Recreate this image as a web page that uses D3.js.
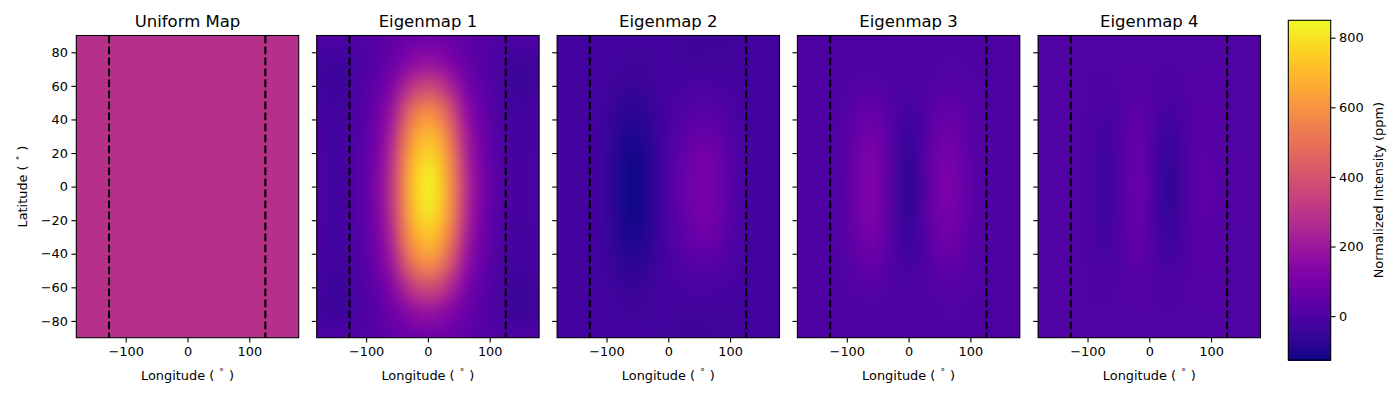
<!DOCTYPE html>
<html>
<head>
<meta charset="utf-8">
<script src="https://cdn.jsdelivr.net/npm/d3@7"></script>
<style>
  html, body { margin: 0; padding: 0; background: #fff; }
  svg text { font-family: "DejaVu Sans", sans-serif; fill: #000; }
</style>
</head>
<body>
<svg id="chart" width="1400" height="400"></svg>
<script>
const titles = ["Uniform Map", "Eigenmap 1", "Eigenmap 2", "Eigenmap 3", "Eigenmap 4"];
const lonNodes = [-180, -160, -140, -120, -100, -80, -60, -40, -20, 0, 20, 40, 60, 80, 100, 120, 140, 160, 180];
const latNodes = [90, 75, 60, 45, 30, 15, 0, -15, -30, -45, -60, -75, -90];
const lonTicks = [-100, 0, 100];
const latTicks = [80, 60, 40, 20, 0, -20, -40, -60, -80];
const cbarTicks = [0, 200, 400, 600, 800];
const cbarDomain = [-126, 850];
const dayNightLon = [-127, 126];

const uniformMap = [285];

const eigenmap1 = [
  [15, 10, 5, 10, 15, 25, 40, 55, 65, 70, 65, 55, 40, 25, 15, 10, 5, 10, 15],
  [-20, -35, -40, -15, 0, 25, 60, 105, 145, 165, 145, 105, 60, 25, 0, -15, -40, -35, -20],
  [-20, -40, -40, -10, 10, 50, 115, 220, 320, 360, 320, 220, 115, 50, 10, -10, -45, -40, -15],
  [-5, -30, -30, -5, 25, 85, 180, 370, 530, 590, 530, 370, 180, 85, 25, -5, -30, -25, 0],
  [0, -25, -25, 0, 35, 110, 235, 480, 650, 715, 650, 485, 240, 115, 35, 5, -20, -25, 0],
  [5, -25, -25, 0, 40, 125, 275, 530, 720, 805, 725, 540, 285, 130, 45, 10, -15, -20, 0],
  [5, -25, -25, 0, 45, 145, 300, 550, 755, 850, 765, 565, 310, 150, 55, 15, -15, -20, 0],
  [5, -25, -25, 0, 40, 130, 285, 540, 735, 825, 740, 555, 295, 135, 45, 10, -15, -20, 0],
  [0, -25, -25, 0, 35, 115, 245, 495, 665, 730, 670, 500, 250, 115, 35, 5, -20, -25, 0],
  [-5, -30, -30, -5, 25, 90, 190, 385, 545, 605, 545, 385, 190, 90, 25, -5, -30, -25, 0],
  [-15, -40, -45, -10, 10, 55, 125, 235, 340, 380, 340, 235, 125, 55, 10, -10, -45, -40, -15],
  [-25, -45, -45, -15, 0, 30, 70, 115, 160, 180, 160, 115, 70, 30, 0, -15, -45, -40, -20],
  [5, 5, 5, 10, 15, 25, 40, 55, 65, 70, 65, 55, 40, 25, 15, 10, 5, 5, 10],
];

const eigenmap2 = [
  [-22, -22, -24, -24, -24, -24, -25, -25, -25, -25, -30, -34, -36, -34, -30, -28, -26, -24, -22],
  [-20, -22, -24, -24, -25, -28, -30, -30, -28, -26, -30, -32, -30, -30, -28, -26, -24, -22, -20],
  [-20, -20, -22, -24, -28, -38, -45, -40, -30, -20, -15, -10, -8, -12, -18, -22, -24, -22, -20],
  [-20, -20, -22, -25, -38, -62, -78, -68, -40, -15, 2, 18, 24, 18, -5, -18, -24, -22, -20],
  [-18, -20, -20, -25, -45, -82, -106, -90, -50, -10, 24, 60, 72, 55, 10, -12, -22, -22, -20],
  [-16, -18, -20, -25, -45, -92, -124, -100, -50, -5, 45, 85, 100, 78, 25, -8, -22, -22, -20],
  [-15, -18, -20, -25, -45, -95, -126, -104, -50, 0, 50, 92, 108, 82, 28, -8, -22, -22, -20],
  [-16, -18, -20, -25, -45, -92, -126, -102, -50, -4, 48, 90, 106, 80, 26, -8, -22, -22, -20],
  [-18, -20, -20, -25, -45, -84, -110, -92, -50, -8, 28, 65, 78, 58, 12, -12, -22, -22, -20],
  [-20, -20, -22, -25, -38, -64, -82, -70, -40, -14, 6, 22, 28, 20, -4, -18, -24, -22, -20],
  [-20, -20, -22, -24, -28, -38, -46, -42, -30, -20, -14, -10, -8, -12, -18, -22, -24, -22, -20],
  [-20, -22, -24, -24, -25, -28, -30, -30, -28, -26, -28, -30, -30, -28, -28, -26, -24, -22, -20],
  [-24, -24, -24, -24, -24, -24, -25, -26, -28, -30, -32, -32, -32, -30, -28, -26, -26, -24, -24],
];

const eigenmap3 = [
  [-2, -2, -2, -3, -4, -4, -4, -2, 0, 2, 2, 2, 2, 2, 2, 0, 0, 0, 0],
  [-2, -2, -2, -2, -3, -3, 0, 0, 0, 0, 0, 2, 4, 4, 2, 2, 0, 0, 0],
  [0, 0, 0, 0, 5, 12, 15, 10, 0, -5, 0, 10, 16, 14, 8, 4, 2, 0, 0],
  [0, 0, 0, 2, 14, 42, 56, 34, -2, -22, -2, 32, 50, 42, 16, 5, 2, 2, 0],
  [0, 0, 0, 4, 24, 74, 98, 58, -8, -48, -8, 56, 88, 70, 24, 8, 4, 2, 0],
  [0, 0, 0, 5, 30, 90, 122, 70, -10, -66, -10, 68, 108, 84, 30, 8, 4, 2, 0],
  [0, 0, 0, 5, 32, 94, 128, 72, -12, -70, -12, 70, 112, 88, 32, 8, 4, 2, 0],
  [0, 0, 0, 5, 30, 92, 124, 70, -10, -68, -10, 68, 110, 84, 30, 8, 4, 2, 0],
  [0, 0, 0, 4, 24, 76, 100, 58, -8, -50, -8, 56, 90, 70, 24, 8, 4, 2, 0],
  [0, 0, 0, 2, 14, 44, 58, 34, -2, -24, -2, 32, 52, 42, 16, 5, 2, 2, 0],
  [0, 0, 0, 0, 5, 12, 16, 10, 0, -6, 0, 10, 16, 14, 8, 4, 2, 0, 0],
  [-2, -2, -2, -2, -3, -3, 0, 0, 0, -2, 0, 2, 4, 4, 2, 2, 0, 0, 0],
  [-2, -2, -2, -3, -3, -3, -2, -2, -2, 0, 0, 2, 2, 2, 2, 0, 0, 0, 0],
];

const eigenmap4 = [
  [6, 6, 6, 6, 6, 6, 6, 8, 8, 8, 8, 8, 8, 8, 8, 8, 8, 8, 8],
  [7, 7, 7, 7, 7, 6, 6, 8, 10, 8, 7, 6, 8, 9, 9, 8, 8, 8, 8],
  [8, 8, 8, 8, 6, 2, 4, 10, 16, 10, 2, 0, 6, 12, 12, 10, 8, 8, 8],
  [8, 8, 8, 8, 4, -10, -8, 16, 40, 20, -14, -22, 4, 20, 20, 12, 8, 8, 8],
  [8, 8, 8, 8, 2, -22, -18, 24, 60, 28, -34, -42, 2, 30, 28, 14, 8, 8, 8],
  [8, 8, 8, 8, 0, -34, -28, 26, 70, 30, -46, -54, 0, 34, 34, 16, 8, 8, 8],
  [8, 8, 8, 8, 0, -36, -30, 28, 72, 32, -48, -56, 0, 36, 34, 16, 8, 8, 8],
  [8, 8, 8, 8, 0, -34, -28, 26, 70, 30, -46, -54, 0, 34, 34, 16, 8, 8, 8],
  [8, 8, 8, 8, 2, -22, -18, 24, 60, 28, -34, -42, 2, 30, 28, 14, 8, 8, 8],
  [8, 8, 8, 8, 4, -10, -8, 16, 40, 20, -14, -22, 4, 20, 20, 12, 8, 8, 8],
  [8, 8, 8, 8, 6, 2, 4, 10, 16, 10, 2, 0, 6, 12, 12, 10, 8, 8, 8],
  [7, 7, 7, 7, 7, 6, 6, 8, 10, 8, 7, 6, 8, 9, 9, 8, 8, 8, 8],
  [6, 6, 6, 6, 6, 6, 6, 8, 8, 8, 8, 8, 8, 8, 8, 8, 8, 8, 8],
];

const maps = [null, eigenmap1, eigenmap2, eigenmap3, eigenmap4];

const panelLeft = [76.3, 316.7, 557.1, 797.4, 1038.1];
const panelWidth = 222.4;
const margin = { top: 35.5, bottom: 62.3 };
const height = 400,
  innerHeight = height - margin.top - margin.bottom;

const svg = d3.select("#chart");
const color = d3.scaleSequential(d3.interpolatePlasma).domain(cbarDomain);

const xScale = d3.scaleLinear().domain([-180, 180]).range([0, panelWidth]);
const yScale = d3.scaleLinear().domain([90, -90]).range([0, innerHeight]);

const defs = svg.append("defs");
defs
  .append("filter")
  .attr("id", "smooth")
  .attr("filterUnits", "userSpaceOnUse")
  .attr("x", -60)
  .attr("y", -60)
  .attr("width", panelWidth + 120)
  .attr("height", innerHeight + 120)
  .attr("color-interpolation-filters", "sRGB")
  .append("feGaussianBlur")
  .attr("stdDeviation", "6 10");
defs
  .append("clipPath")
  .attr("id", "panelClip")
  .append("rect")
  .attr("width", panelWidth)
  .attr("height", innerHeight);

const addDegreeLabel = (sel, name) => {
  sel.append("tspan").text(`${name} ( `);
  sel.append("tspan").attr("font-size", 9).attr("dx", 1).attr("dy", -4.5).text("\u00b0");
  sel.append("tspan").attr("dx", 1).attr("dy", 4.5).text(" )");
};

titles.forEach((title, i) => {
  const g = svg
    .append("g")
    .attr("transform", `translate(${panelLeft[i]},${margin.top})`);

  const img = g.append("g").attr("clip-path", "url(#panelClip)");

  if (i === 0) {
    img
      .selectAll("rect")
      .data(uniformMap)
      .join("rect")
      .attr("width", panelWidth)
      .attr("height", innerHeight)
      .attr("fill", (d) => color(d));
  } else {
    // grid values sit on the nodes, the edge cells run past the clip so the blur stays full
    const cells = maps[i].flatMap((row, r) =>
      row.map((value, c) => ({ value, r, c }))
    );
    img
      .append("g")
      .attr("filter", "url(#smooth)")
      .selectAll("rect")
      .data(cells)
      .join("rect")
      .attr("shape-rendering", "crispEdges")
      .attr("x", (d) => xScale(lonNodes[d.c] - (d.c === 0 ? 60 : 10)))
      .attr("width", (d) =>
        xScale(lonNodes[d.c] + (d.c === lonNodes.length - 1 ? 60 : 10)) -
        xScale(lonNodes[d.c] - (d.c === 0 ? 60 : 10))
      )
      .attr("y", (d) => yScale(latNodes[d.r] + (d.r === 0 ? 30 : 7.5)))
      .attr("height", (d) =>
        yScale(latNodes[d.r] - (d.r === latNodes.length - 1 ? 30 : 7.5)) -
        yScale(latNodes[d.r] + (d.r === 0 ? 30 : 7.5))
      )
      .attr("fill", (d) => color(d.value));
  }

  g.selectAll(".dayNight")
    .data(dayNightLon)
    .join("line")
    .attr("class", "dayNight")
    .attr("x1", (d) => xScale(d))
    .attr("x2", (d) => xScale(d))
    .attr("y1", 0)
    .attr("y2", innerHeight)
    .attr("stroke", "#000")
    .attr("stroke-width", 2.1)
    .attr("stroke-dasharray", "7.7 3.3");

  const gx = g
    .append("g")
    .attr("transform", `translate(0,${innerHeight})`)
    .call(d3.axisBottom(xScale).tickValues(lonTicks).tickSize(4.9).tickPadding(4.5));
  const gy = g
    .append("g")
    .call(d3.axisLeft(yScale).tickValues(latTicks).tickSize(4.9).tickPadding(3.5));
  if (i > 0) gy.selectAll("text").remove();
  [gx, gy].forEach((a) => {
    a.select(".domain").remove();
    a.selectAll("line").attr("stroke", "#000").attr("stroke-width", 1.1);
    a.selectAll("text").attr("font-size", 12.9).attr("font-family", null);
  });

  g.append("rect")
    .attr("width", panelWidth)
    .attr("height", innerHeight)
    .attr("fill", "none")
    .attr("stroke", "#000")
    .attr("stroke-width", 1.1);

  g.append("text")
    .attr("x", panelWidth / 2)
    .attr("y", -8.5)
    .attr("text-anchor", "middle")
    .attr("font-size", 16.5)
    .text(title);

  g.append("text")
    .attr("x", panelWidth / 2)
    .attr("y", innerHeight + 42)
    .attr("text-anchor", "middle")
    .attr("font-size", 12.9)
    .call(addDegreeLabel, "Longitude");

  if (i === 0) {
    g.append("text")
      .attr("transform", `translate(-49,${innerHeight / 2}) rotate(-90)`)
      .attr("text-anchor", "middle")
      .attr("font-size", 12.9)
      .call(addDegreeLabel, "Latitude");
  }
});

// colorbar
const cbar = { left: 1288.3, top: 20.3, width: 42.4, height: 339.7 };
const cbarScale = d3
  .scaleLinear()
  .domain(cbarDomain)
  .range([cbar.height, 0]);
const cbarG = svg
  .append("g")
  .attr("transform", `translate(${cbar.left},${cbar.top})`);
const cbarSteps = d3.range(cbarDomain[0], cbarDomain[1], 4);
cbarG
  .selectAll("rect")
  .data(cbarSteps)
  .join("rect")
  .attr("shape-rendering", "crispEdges")
  .attr("width", cbar.width)
  .attr("y", (d) => cbarScale(d + 4))
  .attr("height", (d) => cbarScale(d) - cbarScale(d + 4) + 0.5)
  .attr("fill", (d) => color(d + 2));
cbarG
  .append("rect")
  .attr("width", cbar.width)
  .attr("height", cbar.height)
  .attr("fill", "none")
  .attr("stroke", "#000")
  .attr("stroke-width", 1.1);
const cbarAxis = cbarG
  .append("g")
  .attr("transform", `translate(${cbar.width},0)`)
  .call(d3.axisRight(cbarScale).tickValues(cbarTicks).tickSize(4.9).tickPadding(3.5));
cbarAxis.select(".domain").remove();
cbarAxis.selectAll("line").attr("stroke", "#000").attr("stroke-width", 1.1);
cbarAxis.selectAll("text").attr("font-size", 12.9).attr("font-family", null);
cbarG
  .append("text")
  .attr("transform", `translate(${cbar.width + 52},${cbar.height / 2}) rotate(-90)`)
  .attr("text-anchor", "middle")
  .attr("font-size", 12.9)
  .text("Normalized Intensity (ppm)");
</script>
</body>
</html>
